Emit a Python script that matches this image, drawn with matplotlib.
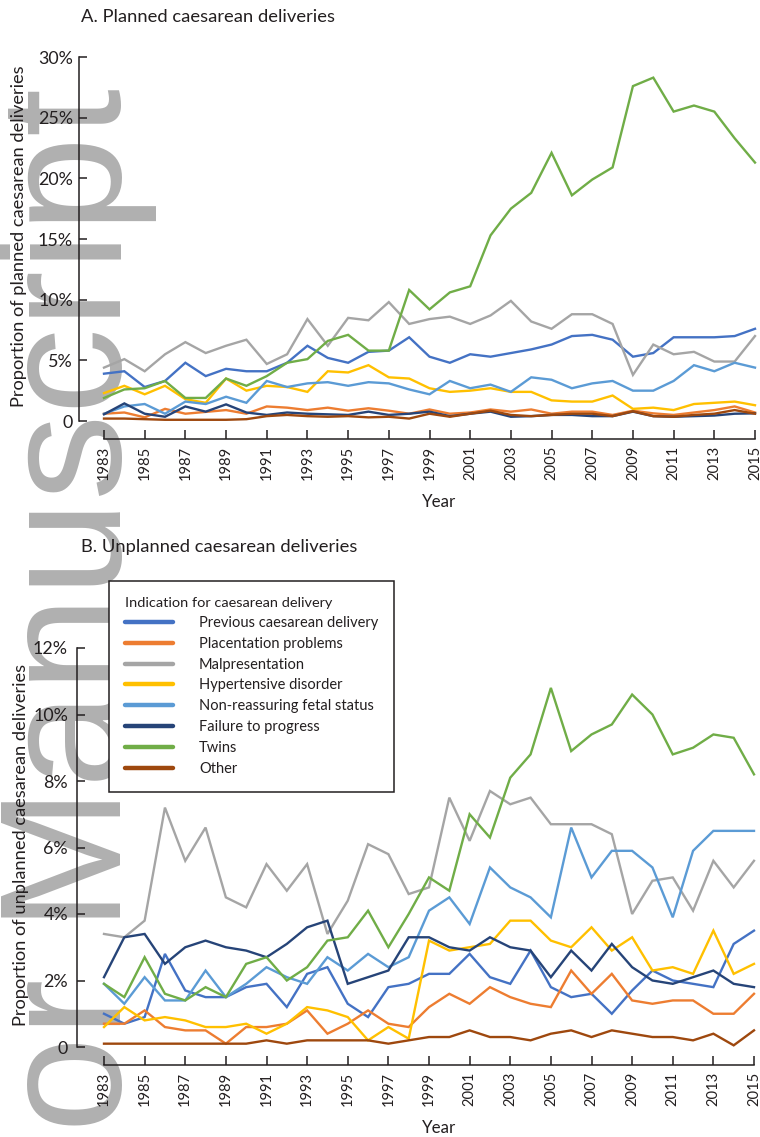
import matplotlib
matplotlib.use("Agg")
import matplotlib.pyplot as plt
from matplotlib.lines import Line2D

# ---------------- data ----------------
years = list(range(1983, 2016))
xtick_years = list(range(1983, 2016, 2))

categories = ["Previous caesarean delivery", "Placentation problems", "Malpresentation",
              "Hypertensive disorder", "Non-reassuring fetal status", "Failure to progress",
              "Twins", "Other"]
colors = ["#4472C4", "#ED7D31", "#A5A5A5", "#FFC000", "#5B9BD5", "#264478", "#70AD47", "#9E480E"]

# Panel A: planned caesarean deliveries (%)
planned_previous = [3.9, 4.1, 2.8, 3.3, 4.8, 3.7, 4.3, 4.1, 4.1, 4.8, 6.2, 5.2, 4.8, 5.7, 5.8, 6.9, 5.3,
                    4.8, 5.5, 5.3, 5.6, 5.9, 6.3, 7.0, 7.1, 6.7, 5.3, 5.6, 6.9, 6.9, 6.9, 7.0, 7.6]
planned_placentation = [0.6, 0.7, 0.3, 1.0, 0.6, 0.75, 0.9, 0.6, 1.2, 1.1, 0.9, 1.1, 0.85, 1.05, 0.85, 0.6, 0.95,
                        0.6, 0.7, 0.95, 0.77, 0.95, 0.6, 0.77, 0.77, 0.5, 0.85, 0.63, 0.5, 0.7, 0.9, 1.2, 0.7]
planned_malpresentation = [4.4, 5.1, 4.1, 5.5, 6.5, 5.6, 6.2, 6.7, 4.7, 5.5, 8.4, 6.2, 8.5, 8.3, 9.8, 8.0, 8.4,
                           8.6, 8.0, 8.7, 9.9, 8.2, 7.6, 8.8, 8.8, 8.0, 3.8, 6.3, 5.5, 5.7, 4.9, 4.9, 7.0]
planned_hypertensive = [2.3, 2.9, 2.2, 2.9, 1.8, 1.5, 3.5, 2.5, 2.9, 2.8, 2.4, 4.1, 4.0, 4.6, 3.6, 3.5, 2.7,
                        2.4, 2.5, 2.7, 2.4, 2.4, 1.7, 1.6, 1.6, 2.1, 1.0, 1.1, 0.9, 1.4, 1.5, 1.6, 1.3]
planned_nonreassuring = [0.6, 1.2, 1.4, 0.6, 1.6, 1.4, 2.0, 1.5, 3.3, 2.8, 3.1, 3.2, 2.9, 3.2, 3.1, 2.6, 2.2,
                         3.3, 2.7, 3.0, 2.4, 3.6, 3.4, 2.7, 3.1, 3.3, 2.5, 2.5, 3.3, 4.6, 4.1, 4.8, 4.4]
planned_failure = [0.55, 1.45, 0.6, 0.35, 1.2, 0.77, 1.37, 0.7, 0.5, 0.7, 0.6, 0.55, 0.5, 0.77, 0.5, 0.6, 0.77,
                   0.4, 0.6, 0.77, 0.35, 0.4, 0.5, 0.5, 0.4, 0.4, 0.77, 0.4, 0.35, 0.4, 0.45, 0.6, 0.63]
planned_twins = [1.9, 2.6, 2.7, 3.3, 1.9, 1.9, 3.5, 2.9, 3.7, 4.8, 5.1, 6.6, 7.1, 5.8, 5.8, 10.8, 9.2,
                 10.6, 11.1, 15.3, 17.5, 18.8, 22.1, 18.6, 19.9, 20.9, 27.6, 28.3, 25.5, 26.0, 25.5, 23.3, 21.3]
planned_other = [0.2, 0.2, 0.15, 0.1, 0.1, 0.1, 0.1, 0.15, 0.4, 0.5, 0.4, 0.35, 0.4, 0.3, 0.35, 0.2, 0.6,
                 0.35, 0.6, 0.85, 0.5, 0.4, 0.5, 0.6, 0.6, 0.4, 0.8, 0.4, 0.35, 0.5, 0.6, 0.9, 0.6]

# Panel B: unplanned caesarean deliveries (%)
unplanned_previous = [1.0, 0.7, 0.9, 2.8, 1.7, 1.5, 1.5, 1.8, 1.9, 1.2, 2.2, 2.4, 1.3, 0.9, 1.8, 1.9, 2.2,
                      2.2, 2.8, 2.1, 1.9, 2.9, 1.8, 1.5, 1.6, 1.0, 1.7, 2.3, 2.0, 1.9, 1.8, 3.1, 3.5]
unplanned_placentation = [0.7, 0.7, 1.1, 0.6, 0.5, 0.5, 0.1, 0.6, 0.6, 0.7, 1.1, 0.4, 0.7, 1.1, 0.7, 0.6, 1.2,
                          1.6, 1.3, 1.8, 1.5, 1.3, 1.2, 2.3, 1.6, 2.2, 1.4, 1.3, 1.4, 1.4, 1.0, 1.0, 1.6]
unplanned_malpresentation = [3.4, 3.3, 3.8, 7.2, 5.6, 6.6, 4.5, 4.2, 5.5, 4.7, 5.5, 3.4, 4.4, 6.1, 5.8, 4.6, 4.8,
                             7.5, 6.2, 7.7, 7.3, 7.5, 6.7, 6.7, 6.7, 6.4, 4.0, 5.0, 5.1, 4.1, 5.6, 4.8, 5.6]
unplanned_hypertensive = [0.6, 1.2, 0.8, 0.9, 0.8, 0.6, 0.6, 0.7, 0.4, 0.7, 1.2, 1.1, 0.9, 0.2, 0.6, 0.25, 3.2,
                          2.9, 3.0, 3.1, 3.8, 3.8, 3.2, 3.0, 3.6, 2.9, 3.3, 2.3, 2.4, 2.2, 3.5, 2.2, 2.5]
unplanned_nonreassuring = [1.9, 1.3, 2.1, 1.4, 1.4, 2.3, 1.5, 1.9, 2.4, 2.1, 1.9, 2.7, 2.3, 2.8, 2.4, 2.7, 4.1,
                           4.5, 3.7, 5.4, 4.8, 4.5, 3.9, 6.6, 5.1, 5.9, 5.9, 5.4, 3.9, 5.9, 6.5, 6.5, 6.5]
unplanned_failure = [2.1, 3.3, 3.4, 2.5, 3.0, 3.2, 3.0, 2.9, 2.7, 3.1, 3.6, 3.8, 1.9, 2.1, 2.3, 3.3, 3.3,
                     3.0, 2.9, 3.3, 3.0, 2.9, 2.1, 2.9, 2.3, 3.1, 2.4, 2.0, 1.9, 2.1, 2.3, 1.9, 1.8]
unplanned_twins = [1.9, 1.5, 2.7, 1.6, 1.4, 1.8, 1.5, 2.5, 2.7, 2.0, 2.4, 3.2, 3.3, 4.1, 3.0, 4.0, 5.1,
                   4.7, 7.0, 6.3, 8.1, 8.8, 10.8, 8.9, 9.4, 9.7, 10.6, 10.0, 8.8, 9.0, 9.4, 9.3, 8.2]
unplanned_other = [0.1, 0.1, 0.1, 0.1, 0.1, 0.1, 0.1, 0.1, 0.2, 0.1, 0.2, 0.2, 0.2, 0.2, 0.1, 0.2, 0.3,
                   0.3, 0.5, 0.3, 0.3, 0.2, 0.4, 0.5, 0.3, 0.5, 0.4, 0.3, 0.3, 0.2, 0.4, 0.05, 0.5]

planned_yticks = [0, 5, 10, 15, 20, 25, 30]
planned_yticklabels = ["0", "5%", "10%", "15%", "20%", "25%", "30%"]
unplanned_yticks = [0, 2, 4, 6, 8, 10, 12]
unplanned_yticklabels = ["0", "2%", "4%", "6%", "8%", "10%", "12%"]

planned_series = [planned_previous, planned_placentation, planned_malpresentation, planned_hypertensive,
                  planned_nonreassuring, planned_failure, planned_twins, planned_other]
unplanned_series = [unplanned_previous, unplanned_placentation, unplanned_malpresentation, unplanned_hypertensive,
                    unplanned_nonreassuring, unplanned_failure, unplanned_twins, unplanned_other]

# ---------------- style ----------------
W, H = 760, 1137
DPI = 100
INK = "#231f20"
FONT = "Lato"
plt.rcParams["font.family"] = [FONT, "DejaVu Sans"]
plt.rcParams["text.color"] = INK
plt.rcParams["axes.edgecolor"] = INK
plt.rcParams["xtick.color"] = INK
plt.rcParams["ytick.color"] = INK

fig = plt.figure(figsize=(W / DPI, H / DPI), dpi=DPI, facecolor="white")
fig.canvas.draw()
renderer = fig.canvas.get_renderer()


def px2pt(p):
    return p * 72.0 / DPI


def fit_size(s, target_px, family=FONT, dim="w"):
    t = fig.text(0, 0, s, fontsize=10, family=family)
    bb = t.get_window_extent(renderer)
    t.remove()
    cur = bb.width if dim == "w" else bb.height
    return 10.0 * target_px / cur


fs_title = fit_size("A. Planned caesarean deliveries", 254)
fs_ytick = fit_size("30%", 35)
fs_xtick = fit_size("1983", 34)
fs_ylabel = fit_size("Proportion of planned caesarean deliveries", 344)
fs_year = fit_size("Year", 34)
fs_leg = fit_size("Previous caesarean delivery", 178)
fs_legtitle = fit_size("Indication for caesarean delivery", 207)

# watermark (behind everything)
fig.text(121 / W, 1 - 88 / H, "Author Manuscript", rotation=90, rotation_mode="anchor",
         ha="right", va="baseline", fontsize=124, family="Liberation Sans",
         color="#b0b0b0", zorder=-10)


def make_axes(left_px, right_px, top_px, bottom_px, x0_px, x1_px):
    ax = fig.add_axes([left_px / W, 1 - bottom_px / H, (right_px - left_px) / W, (bottom_px - top_px) / H])
    ax.set_facecolor("none")
    ppy = (x1_px - x0_px) / (2015 - 1983)
    ax.set_xlim(1983 - (x0_px - left_px) / ppy, 1983 + (right_px - x0_px) / ppy)
    return ax


def style_axes(ax, yticks, yticklabels, ypad):
    for side in ("top", "right"):
        ax.spines[side].set_visible(False)
    ax.spines["left"].set_linewidth(1.1)
    ax.spines["bottom"].set_linewidth(1.1)
    ax.spines["bottom"].set_position(("outward", px2pt(18)))
    ax.spines["left"].set_bounds(yticks[0], yticks[-1])
    ax.spines["bottom"].set_bounds(1983, 2015)
    ax.set_ylim(yticks[0], yticks[-1])
    ax.set_yticks(yticks)
    ax.set_yticklabels(yticklabels)
    ax.set_xticks(xtick_years)
    ax.set_xticklabels([str(y) for y in xtick_years], rotation=90)
    ax.tick_params(axis="y", direction="in", length=px2pt(8), width=1.1, pad=ypad, labelsize=fs_ytick)
    ax.tick_params(axis="x", direction="in", length=px2pt(9), width=1.1, pad=px2pt(7), labelsize=fs_xtick)


# Panel A
axA = make_axes(79, 760, 57, 421, 104, 755)
for vals, col in zip(planned_series, colors):
    axA.plot(years, vals, color=col, lw=1.7, clip_on=False, solid_joinstyle="miter")
style_axes(axA, planned_yticks, planned_yticklabels, px2pt(6))

# Panel B
axB = make_axes(77, 760, 648, 1047, 104, 754)
for vals, col in zip(unplanned_series, colors):
    axB.plot(years, vals, color=col, lw=1.7, clip_on=False, solid_joinstyle="miter")
style_axes(axB, unplanned_yticks, unplanned_yticklabels, px2pt(9))

# titles and labels
fig.text(81 / W, 1 - 17 / H, "A. Planned caesarean deliveries", fontsize=fs_title, ha="left", va="center")
fig.text(81 / W, 1 - 547 / H, "B. Unplanned caesarean deliveries", fontsize=fs_title, ha="left", va="center")
fig.text(19 / W, 1 - 236 / H, "Proportion of planned caesarean deliveries", rotation=90,
         fontsize=fs_ylabel, ha="center", va="center")
fig.text(21 / W, 1 - 845 / H, "Proportion of unplanned caesarean deliveries", rotation=90,
         fontsize=fs_ylabel, ha="center", va="center")
fig.text(439 / W, 1 - 502 / H, "Year", fontsize=fs_year, ha="center", va="center")
fig.text(439 / W, 1 - 1128 / H, "Year", fontsize=fs_year, ha="center", va="center")

# legend
fs_leg_px = fs_leg * DPI / 72.0
handles = [Line2D([], [], color=c, lw=3.2, solid_capstyle="round") for c in colors]
leg = axB.legend(handles, categories, loc="upper left",
                 bbox_to_anchor=(109 / W, 1 - 581 / H), bbox_transform=fig.transFigure,
                 borderaxespad=0, frameon=True, fancybox=False, edgecolor=INK, framealpha=1,
                 fontsize=fs_leg, title="Indication for caesarean delivery",
                 title_fontproperties={"size": fs_legtitle, "family": FONT}, alignment="left",
                 handlelength=48 / fs_leg_px, handletextpad=26 / fs_leg_px,
                 labelspacing=0.47, borderpad=1.1)
leg.get_frame().set_linewidth(1.1)
for txt in leg.get_texts():
    txt.set_color(INK)
leg.get_title().set_color(INK)

fig.savefig("out.png", dpi=DPI, facecolor="white")
